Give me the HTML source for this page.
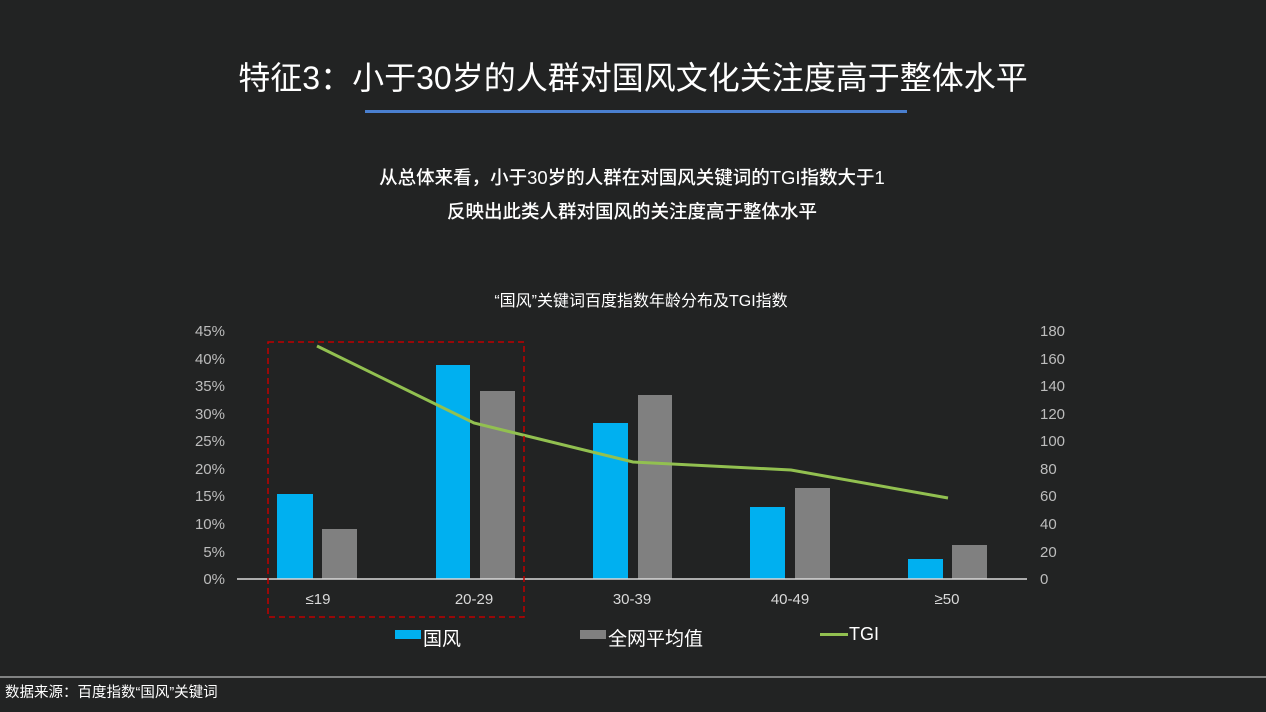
<!DOCTYPE html>
<html><head><meta charset="utf-8"><style>
html,body{margin:0;padding:0;background:#222323;}
svg{display:block;font-family:"Liberation Sans","Noto Sans CJK SC",sans-serif;}
</style></head><body>
<svg width="1266" height="712" viewBox="0 0 1266 712">
<rect width="1266" height="712" fill="#222323"/>
<text x="633" y="89" text-anchor="middle" fill="#fff" font-size="32">特征3：小于30岁的人群对国风文化关注度高于整体水平</text>
<rect x="365" y="110" width="542" height="3" fill="#4a7fcf"/>
<text x="632" y="184" text-anchor="middle" fill="#fff" font-size="18.5" font-weight="500">从总体来看，小于30岁的人群在对国风关键词的TGI指数大于1</text>
<text x="632" y="218" text-anchor="middle" fill="#fff" font-size="18.5" font-weight="500">反映出此类人群对国风的关注度高于整体水平</text>
<text x="641" y="306" text-anchor="middle" fill="#fff" font-size="16">“国风”关键词百度指数年龄分布及TGI指数</text>
<g fill="#bdbdbd" font-size="15" text-anchor="end">
<text x="225" y="336">45%</text><text x="225" y="364">40%</text><text x="225" y="391">35%</text><text x="225" y="419">30%</text><text x="225" y="446">25%</text><text x="225" y="474">20%</text><text x="225" y="501">15%</text><text x="225" y="529">10%</text><text x="225" y="557">5%</text><text x="225" y="584">0%</text>
</g>
<g fill="#bdbdbd" font-size="15" text-anchor="start">
<text x="1040" y="336">180</text><text x="1040" y="364">160</text><text x="1040" y="391">140</text><text x="1040" y="419">120</text><text x="1040" y="446">100</text><text x="1040" y="474">80</text><text x="1040" y="501">60</text><text x="1040" y="529">40</text><text x="1040" y="557">20</text><text x="1040" y="584">0</text>
</g>
<g fill="#00b0f0">
<rect x="277" y="494" width="36" height="85"/><rect x="436" y="365" width="34" height="214"/><rect x="593" y="423" width="35" height="156"/><rect x="750" y="507" width="35" height="72"/><rect x="908" y="559" width="35" height="20"/>
</g>
<g fill="#808080">
<rect x="322" y="529" width="35" height="50"/><rect x="480" y="391" width="35" height="188"/><rect x="638" y="395" width="34" height="184"/><rect x="795" y="488" width="35" height="91"/><rect x="952" y="545" width="35" height="34"/>
</g>
<line x1="237" y1="579" x2="1027" y2="579" stroke="#d9d9d9" stroke-width="1.5"/>
<polyline points="317,346 474,423 633,462 791,470 948,498" fill="none" stroke="#92c050" stroke-width="3"/>
<g fill="#d9d9d9" font-size="15" text-anchor="middle">
<text x="318" y="604">≤19</text><text x="474" y="604">20-29</text><text x="632" y="604">30-39</text><text x="790" y="604">40-49</text><text x="947" y="604">≥50</text>
</g>
<rect x="268" y="342" width="256" height="275" fill="none" stroke="#c00000" stroke-width="1.5" stroke-dasharray="6,4"/>
<rect x="395" y="630" width="26" height="9" fill="#00b0f0"/>
<text x="423" y="645" fill="#fff" font-size="19">国风</text>
<rect x="580" y="630" width="26" height="9" fill="#808080"/>
<text x="608" y="645" fill="#fff" font-size="19">全网平均值</text>
<rect x="820" y="633" width="28" height="3" fill="#92c050"/>
<text x="849" y="640" fill="#fff" font-size="18">TGI</text>
<line x1="0" y1="677" x2="1266" y2="677" stroke="#e0e0e0" stroke-width="1"/>
<text x="5" y="697" fill="#fff" font-size="14.5">数据来源：百度指数“国风”关键词</text>
</svg>
</body></html>
